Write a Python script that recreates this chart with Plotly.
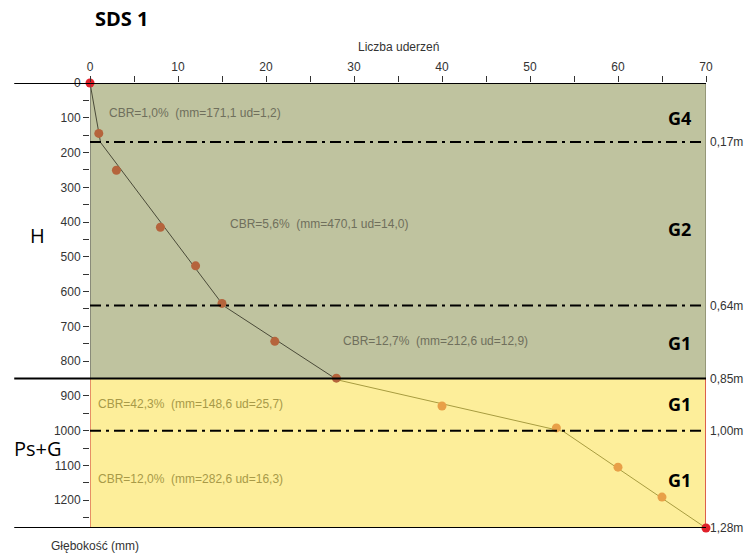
import plotly.graph_objects as go

# ---- data ----
boundary_blows = [0, 1.2, 15.2, 28.1, 53.8, 70]
boundary_depth = [0, 171.1, 641.2, 853.8, 1002.4, 1280]
upper_blows = [1, 3, 8, 12, 15, 21, 28]
upper_depth = [145, 251, 415, 526, 634, 743, 849]
lower_blows = [40, 53, 60, 65]
lower_depth = [929, 992, 1105, 1191]
end_blows = [0, 70]
end_depth = [0, 1280]
layer_bounds = [170, 640, 1000]
layer_labels = ["G4", "G2", "G1", "G1", "G1"]
layer_label_depth = [100, 420, 748, 924, 1142]
depth_marks = [170, 640, 850, 1000, 1280]
depth_mark_labels = ["0,17m", "0,64m", "0,85m", "1,00m", "1,28m"]
cbr_texts = ["CBR=1,0%  (mm=171,1 ud=1,2)", "CBR=5,6%  (mm=470,1 ud=14,0)",
             "CBR=12,7%  (mm=212,6 ud=12,9)", "CBR=42,3%  (mm=148,6 ud=25,7)",
             "CBR=12,0%  (mm=282,6 ud=16,3)"]
cbr_x = [1.9, 15.7, 28.5, 0.7, 0.7]
cbr_depth = [86, 406, 743, 924, 1140]
strata = ["H", "Ps+G"]
strata_depth = [440, 1052]
strata_split = 850

GREEN = "#bfc39f"
YELLOW = "#fdee9a"

fig = go.Figure()

fig.add_trace(go.Scatter(x=boundary_blows[:4], y=boundary_depth[:4], mode="lines",
                         line=dict(color="#4a4a38", width=1), hoverinfo="skip", showlegend=False))
fig.add_trace(go.Scatter(x=boundary_blows[3:], y=boundary_depth[3:], mode="lines",
                         line=dict(color="#a89c40", width=1), hoverinfo="skip", showlegend=False))
fig.add_trace(go.Scatter(x=upper_blows, y=upper_depth, mode="markers",
                         marker=dict(color="#b5643c", size=9), showlegend=False))
fig.add_trace(go.Scatter(x=lower_blows, y=lower_depth, mode="markers",
                         marker=dict(color="#e8a048", size=9), showlegend=False))
fig.add_trace(go.Scatter(x=end_blows, y=end_depth, mode="markers", cliponaxis=False,
                         marker=dict(color="#e0202a", size=9), showlegend=False))

shapes = []
shapes.append(dict(type="rect", xref="x", yref="y", x0=0, x1=70, y0=0, y1=strata_split,
                   fillcolor=GREEN, line=dict(width=0), layer="below"))
shapes.append(dict(type="rect", xref="x", yref="y", x0=0, x1=70, y0=strata_split, y1=1280,
                   fillcolor=YELLOW, line=dict(width=0), layer="below"))
# edges
shapes.append(dict(type="line", xref="x", yref="y", x0=0, x1=0, y0=0, y1=strata_split,
                   line=dict(color="#555555", width=1)))
shapes.append(dict(type="line", xref="x", yref="y", x0=70, x1=70, y0=0, y1=strata_split,
                   line=dict(color="#6b6b50", width=1)))
shapes.append(dict(type="line", xref="x", yref="y", x0=0, x1=0, y0=strata_split, y1=1280,
                   line=dict(color="#d03030", width=1)))
shapes.append(dict(type="line", xref="x", yref="y", x0=70, x1=70, y0=strata_split, y1=1280,
                   line=dict(color="#d03030", width=1.5)))
for b in layer_bounds:
    shapes.append(dict(type="line", xref="x", yref="y", x0=0, x1=70, y0=b, y1=b,
                       line=dict(color="black", width=2, dash="11px,5px,3px,5px")))
for b in [0, strata_split, 1280]:
    shapes.append(dict(type="line", xref="paper", yref="y", x0=-0.123, x1=1, y0=b, y1=b,
                       line=dict(color="black", width=2)))

ann = []
for t, x, d in zip(cbr_texts, cbr_x, cbr_depth):
    ann.append(dict(text=t, x=x, y=d, xref="x", yref="y", xanchor="left", yanchor="middle",
                    showarrow=False,
                    font=dict(family="Liberation Sans", size=12,
                              color="#6f6f5c" if d < strata_split else "#a89a48")))
for t, d in zip(layer_labels, layer_label_depth):
    ann.append(dict(text="<b>" + t + "</b>", x=0.979, y=d, xref="paper", yref="y",
                    xanchor="right", yanchor="middle", showarrow=False,
                    font=dict(family="Open Sans", size=18, color="black")))
for t, d in zip(depth_mark_labels, depth_marks):
    ann.append(dict(text=t, x=1.004, y=d, xref="paper", yref="y", xanchor="left",
                    yanchor="middle", showarrow=False,
                    font=dict(family="Liberation Sans", size=12, color="#333333")))
for t, d in zip(strata, strata_depth):
    ann.append(dict(text=t, x=-0.085, y=d, xref="paper", yref="y", xanchor="center",
                    yanchor="middle", showarrow=False,
                    font=dict(family="Open Sans", size=20, color="black")))
ann.append(dict(text="<b>SDS 1</b>", x=0.005, y=1.144, xref="paper", yref="paper",
                xanchor="left", yanchor="middle", showarrow=False,
                font=dict(family="Open Sans", size=20, color="black")))
ann.append(dict(text="Liczba uderzeń", x=0.5, y=1.081, xref="paper", yref="paper",
                xanchor="center", yanchor="middle", showarrow=False,
                font=dict(family="Liberation Sans", size=12, color="#333333")))
ann.append(dict(text="Głębokość (mm)", x=-0.066, y=-0.040, xref="paper", yref="paper",
                xanchor="left", yanchor="middle", showarrow=False,
                font=dict(family="Liberation Sans", size=12, color="#333333")))

fig.update_layout(
    width=746, height=559,
    margin=dict(l=90, r=40, t=83, b=31),
    paper_bgcolor="white", plot_bgcolor="white",
    shapes=shapes, annotations=ann,
    xaxis=dict(side="top", range=[0, 70], tickvals=[0, 10, 20, 30, 40, 50, 60, 70],
               ticks="outside", ticklen=6, tickcolor="#333333", showgrid=False, zeroline=False,
               showline=False, tickfont=dict(family="Liberation Sans", size=12, color="#333333"),
               minor=dict(tickvals=[5, 15, 25, 35, 45, 55, 65], ticks="outside", ticklen=6,
                          tickcolor="#333333")),
    yaxis=dict(range=[1280, 0], tickvals=list(range(0, 1300, 100)), ticks="outside", ticklen=6,
               tickcolor="#333333", showgrid=False, zeroline=False, showline=False,
               tickfont=dict(family="Liberation Sans", size=12, color="#333333"),
               minor=dict(tickvals=list(range(50, 1300, 100)), ticks="outside", ticklen=6,
                          tickcolor="#333333")),
)

fig.write_html("out.html", config={"displayModeBar": False},
               post_script="document.body.style.margin='0';document.body.style.overflow='hidden';")
